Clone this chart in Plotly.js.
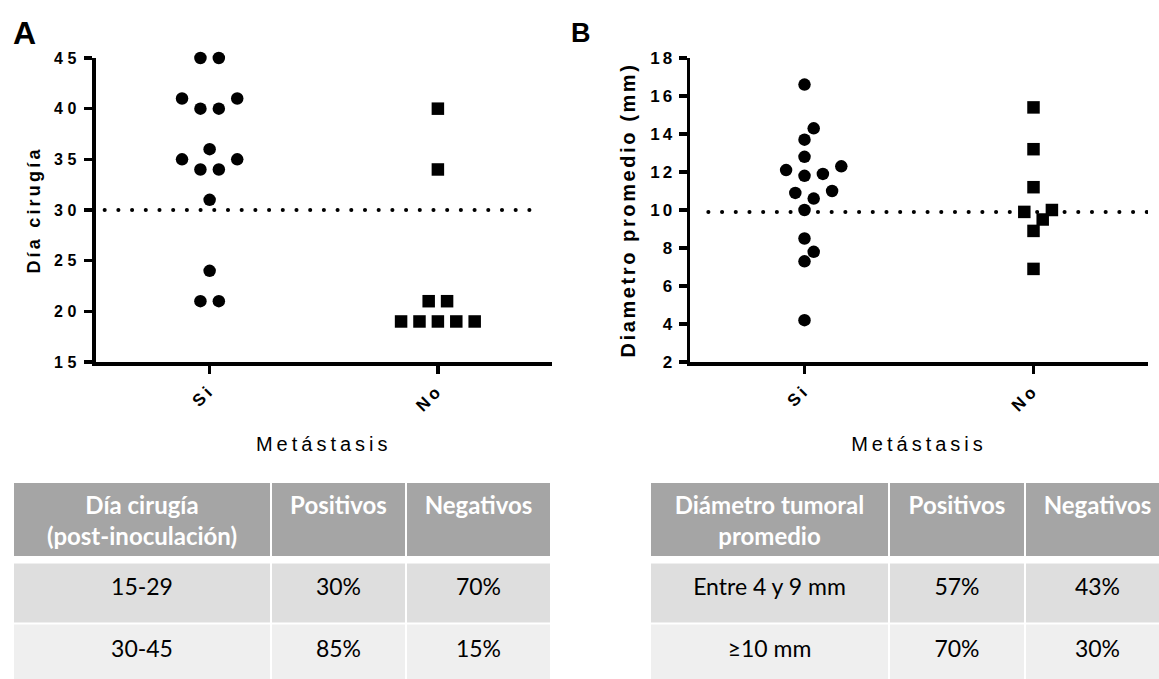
<!DOCTYPE html>
<html><head><meta charset="utf-8">
<script src="https://cdn.plot.ly/plotly-3.0.1.min.js"></script>
<style>
html,body{margin:0;padding:0;background:#fff;}
#chart{width:1159px;height:679px;}
.xtick text,.x2tick text{letter-spacing:3.5px;}
.ytick text{letter-spacing:4.5px;}
.y2tick text{letter-spacing:3px;}
.g-xtitle text,.g-x2title text{letter-spacing:4px;}
.g-ytitle text{letter-spacing:3.2px;}
.g-y2title text{letter-spacing:2.6px;}
.shapelayer path{stroke-linecap:round;}
</style></head><body><div id="chart"></div>
<script>
// ---------- data ----------
const categories = ['Si', 'No'];
const diaCirugiaSi = [45, 45, 41, 41, 40, 40, 36, 35, 35, 34, 34, 31, 24, 21, 21];
const diaCirugiaNo = [40, 34, 21, 21, 19, 19, 19, 19, 19];
const diametroSi = [16.6, 14.3, 13.7, 12.8, 12.3, 12.1, 11.9, 11.8, 11.0, 10.9, 10.6, 10.0, 8.5, 7.8, 7.3, 4.2];
const diametroNo = [15.4, 13.2, 11.2, 10.0, 9.9, 9.5, 8.9, 6.9];
const corteDia = 30;
const corteDiametro = 9.9;
const tablaAHeader = ['Día cirugía<br>(post-inoculación)', 'Positivos', 'Negativos'];
const tablaAFilas = [['15-29', '30%', '70%'], ['30-45', '85%', '15%']];
const tablaBHeader = ['Diámetro tumoral<br>promedio', 'Positivos', 'Negativos'];
const tablaBFilas = [['Entre 4 y 9 mm', '57%', '43%'], ['≥10 mm', '70%', '30%']];

// ---------- layout geometry (px) ----------
const W = 1159, H = 679;
const plotTop = 58, plotBottom = 362;
const panA = {x0: 95.5, x1: 552, ymin: 15, ymax: 45};
const panB = {x0: 690, x1: 1148, ymin: 2, ymax: 18};
const tableTop = 482;
const tabA = {x0: 13, x1: 551, cols: [0, 258, 393, 538]};
const tabB = {x0: 650, x1: 1159, cols: [0, 239, 375, 520]};
const headerRows = [0, 75];
const bodyRows = [80.5, 141.75, 203];
const swarmStep = 9.2, swarmDist = 12.5, markerSize = 12.5;

const px = v => v / W, py = v => 1 - v / H;

// beeswarm offsets (ascending order, equal values spread symmetrically)
function swarm(vals, pxY, pxX) {
  const idx = vals.map((v, i) => i).sort((a, b) => vals[a] - vals[b]);
  const placed = [];
  const out = new Array(vals.length).fill(0);
  const free = (k, y) => placed.every(p => Math.hypot((p.k - k) * swarmStep, p.y - y) >= swarmDist);
  let i = 0;
  while (i < idx.length) {
    let j = i;
    while (j < idx.length && vals[idx[j]] === vals[idx[i]]) j++;
    const n = j - i, y = vals[idx[i]] * pxY;
    let ks = null;
    if (n === 1) {
      for (let m = 0; ks === null && m < 30; m++) {
        const c = m === 0 ? [0] : [m, -m];
        for (const k of c) { if (free(k, y)) { ks = [k]; break; } }
      }
      if (!ks) ks = [0];
    } else {
      const base = [];
      for (let t = 0; t < n; t++) base.push(-(n - 1) + 2 * t);
      for (let s = 0; ks === null && s < 30; s++) {
        const c = base.map(k => k === 0 ? 0 : Math.sign(k) * (Math.abs(k) + 2 * s));
        if (c.every(k => free(k, y))) ks = c;
      }
      if (!ks) ks = base;
    }
    ks.forEach((k, t) => { out[idx[i + t]] = k * swarmStep / pxX; placed.push({k, y}); });
    i = j;
  }
  return out;
}

const pxYA = (plotBottom - plotTop) / (panA.ymax - panA.ymin);
const pxXA = (panA.x1 - panA.x0) / 2;
const pxYB = (plotBottom - plotTop) / (panB.ymax - panB.ymin);
const pxXB = (panB.x1 - panB.x0) / 2;

function pts(vals, catIndex, pxY, pxX) {
  const off = swarm(vals, pxY, pxX);
  return vals.map((v, i) => catIndex + off[i]);
}

const mk = (sym) => ({symbol: sym, size: markerSize, color: '#000', line: {width: 0}});
const traces = [
  {type: 'scatter', mode: 'markers', x: pts(diaCirugiaSi, 0, pxYA, pxXA), y: diaCirugiaSi, marker: mk('circle'), xaxis: 'x', yaxis: 'y', cliponaxis: false, hoverinfo: 'skip'},
  {type: 'scatter', mode: 'markers', x: pts(diaCirugiaNo, 1, pxYA, pxXA), y: diaCirugiaNo, marker: mk('square'), xaxis: 'x', yaxis: 'y', cliponaxis: false, hoverinfo: 'skip'},
  {type: 'scatter', mode: 'markers', x: pts(diametroSi, 0, pxYB, pxXB), y: diametroSi, marker: mk('circle'), xaxis: 'x2', yaxis: 'y2', cliponaxis: false, hoverinfo: 'skip'},
  {type: 'scatter', mode: 'markers', x: pts(diametroNo, 1, pxYB, pxXB), y: diametroNo, marker: mk('square'), xaxis: 'x2', yaxis: 'y2', cliponaxis: false, hoverinfo: 'skip'}
];

// tables
function tableTraces(header, rows, geo, xa, ya) {
  const cols = geo.cols;
  const centers = cols.slice(0, -1).map((c, i) => (c + cols[i + 1]) / 2);
  const out = [];
  out.push({type: 'heatmap', x: cols, y: headerRows, z: [header.map(() => 0)], zmin: 0, zmax: 1,
    colorscale: [[0, '#a5a5a5'], [1, '#a5a5a5']], showscale: false, xgap: 2, ygap: 2, hoverinfo: 'skip', xaxis: xa, yaxis: ya});
  out.push({type: 'heatmap', x: cols, y: bodyRows, z: rows.map((r, i) => r.map(() => i)), zmin: 0, zmax: 1,
    colorscale: [[0, '#dedede'], [1, '#efefef']], showscale: false, xgap: 2, ygap: 2, hoverinfo: 'skip', xaxis: xa, yaxis: ya});
  out.push({type: 'scatter', mode: 'text', x: centers, y: header.map(() => headerRows[0] + 14), text: header,
    textposition: 'bottom center', textfont: {family: 'Lato', size: 24, color: '#ffffff', weight: 700},
    hoverinfo: 'skip', xaxis: xa, yaxis: ya, cliponaxis: false});
  rows.forEach((r, i) => {
    out.push({type: 'scatter', mode: 'text', x: centers, y: r.map(() => bodyRows[i] + 15.5), text: r,
      textposition: 'bottom center', textfont: {family: 'Lato', size: 23, color: '#000000'},
      hoverinfo: 'skip', xaxis: xa, yaxis: ya, cliponaxis: false});
  });
  return out;
}
traces.push(...tableTraces(tablaAHeader, tablaAFilas, tabA, 'x3', 'y3'));
traces.push(...tableTraces(tablaBHeader, tablaBFilas, tabB, 'x4', 'y4'));

const tickFont = (s) => ({family: 'Liberation Sans', size: s, color: '#000', weight: 700});
const xAxisBase = {
  range: [-0.5, 1.5], tickvals: [0, 1], ticktext: categories, tickangle: -45,
  showline: true, linewidth: 3.5, linecolor: '#000', ticks: 'outside', ticklen: 8, tickwidth: 3.5, tickcolor: '#000',
  showgrid: false, zeroline: false, fixedrange: true, tickfont: tickFont(17),
  title: {text: 'Metástasis', font: {family: 'Liberation Sans', size: 20, color: '#000'}, standoff: 24}
};
const yAxisBase = {
  showline: true, linewidth: 3.5, linecolor: '#000', ticks: 'outside', ticklen: 8, tickwidth: 3.5, tickcolor: '#000',
  showgrid: false, zeroline: false, fixedrange: true
};
const tableH = H - tableTop;

const layout = {
  width: W, height: H, margin: {l: 0, r: 0, t: 0, b: 0}, paper_bgcolor: '#fff', plot_bgcolor: 'rgba(0,0,0,0)',
  showlegend: false, font: {family: 'Liberation Sans', color: '#000'},
  xaxis: Object.assign({}, xAxisBase, {domain: [px(panA.x0), px(panA.x1)], anchor: 'y'}),
  yaxis: Object.assign({}, yAxisBase, {domain: [py(plotBottom), py(plotTop)], anchor: 'x', range: [panA.ymin, panA.ymax],
    tick0: 15, dtick: 5, tickfont: tickFont(16),
    title: {text: 'Día cirugía', font: {family: 'Liberation Sans', size: 18, color: '#000', weight: 700}, standoff: 9}}),
  xaxis2: Object.assign({}, xAxisBase, {domain: [px(panB.x0), px(panB.x1)], anchor: 'y2'}),
  yaxis2: Object.assign({}, yAxisBase, {domain: [py(plotBottom), py(plotTop)], anchor: 'x2', range: [panB.ymin, panB.ymax],
    tick0: 2, dtick: 2, tickfont: tickFont(17),
    title: {text: 'Diametro promedio (mm)', font: {family: 'Liberation Sans', size: 20, color: '#000', weight: 700}, standoff: 10}}),
  xaxis3: {domain: [px(tabA.x0), px(tabA.x1)], range: [0, tabA.x1 - tabA.x0], visible: false, fixedrange: true, anchor: 'y3'},
  yaxis3: {domain: [0, py(tableTop)], range: [tableH, 0], visible: false, fixedrange: true, anchor: 'x3'},
  xaxis4: {domain: [px(tabB.x0), 1], range: [0, tabB.x1 - tabB.x0], visible: false, fixedrange: true, anchor: 'y4'},
  yaxis4: {domain: [0, py(tableTop)], range: [tableH, 0], visible: false, fixedrange: true, anchor: 'x4'},
  shapes: [
    {type: 'line', xref: 'x', yref: 'y', x0: -0.46, x1: 1.46, y0: corteDia, y1: corteDia,
      line: {color: '#000', width: 4, dash: '0.1px,13.6px'}},
    {type: 'line', xref: 'x2', yref: 'y2', x0: -0.42, x1: 1.5, y0: corteDiametro, y1: corteDiametro,
      line: {color: '#000', width: 4, dash: '0.1px,13.6px'}},
    {type: 'line', xref: 'x4', yref: 'y4', x0: -0.5, x1: -0.5, y0: 0, y1: tableH, line: {color: '#b4b4b4', width: 1}}
  ],
  annotations: [
    {text: 'A', xref: 'paper', yref: 'paper', x: px(11), y: py(13), xanchor: 'left', yanchor: 'top', showarrow: false,
      font: {family: 'Liberation Sans', size: 32, color: '#000', weight: 700}},
    {text: 'B', xref: 'paper', yref: 'paper', x: px(569), y: py(16), xanchor: 'left', yanchor: 'top', showarrow: false,
      font: {family: 'Liberation Sans', size: 27, color: '#000', weight: 700}}
  ]
};

Plotly.newPlot('chart', traces, layout, {staticPlot: true, displayModeBar: false});
</script></body></html>
